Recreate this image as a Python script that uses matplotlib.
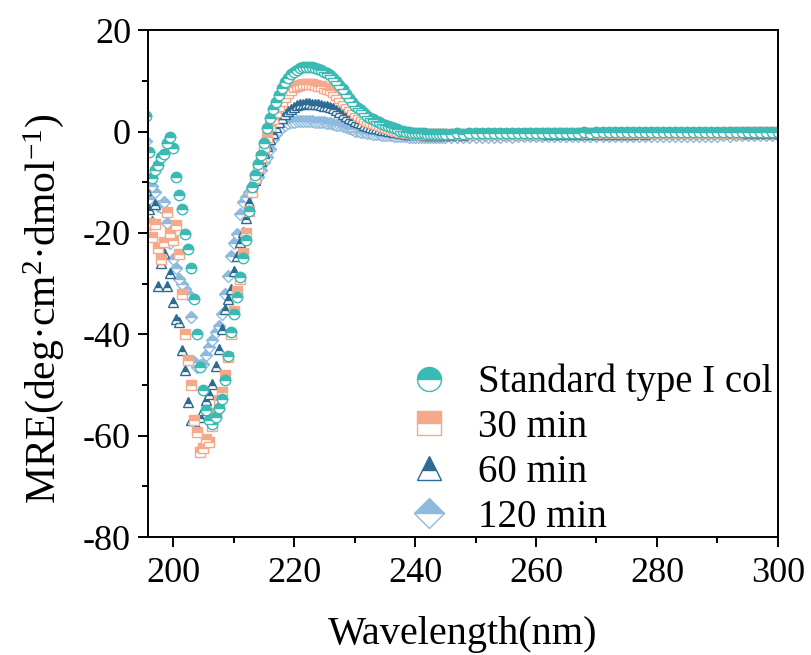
import numpy as np
import matplotlib
matplotlib.use("Agg")
import matplotlib.pyplot as plt

plt.rcParams["font.family"] = ["Liberation Serif", "DejaVu Serif"]
plt.rcParams["mathtext.fontset"] = "custom"
plt.rcParams["mathtext.rm"] = "Liberation Serif"
plt.rcParams["mathtext.it"] = "Liberation Serif:italic"
plt.rcParams["axes.unicode_minus"] = False

# wavelengths: 0.5 nm steps through the bands, 1 nm steps in the flat tail
wl_band = np.arange(195.5, 245.01, 0.5)
wl_tail = np.arange(246, 301, 1)

labels = ["Standard type I col", "30 min", "60 min", "120 min"]
colors = ["#3BBAB4", "#F5A88A", "#2E6B93", "#8EBBDD"]
markers = ["o", "s", "^", "D"]

std_band = [
    3.0, -4.1, -9.1, -7.5, -6.6, -5.1, -4.4, -2.3, -1.0,
    -3.2, -8.9, -12.5, -15.3, -20.2, -23.1, -27.0, -33.0, -40.0, -46.5,
    -51.0, -55.0, -57.0, -57.6, -56.3, -54.6, -52.7, -49.1, -44.2, -39.6,
    -36.0, -32.7, -28.7, -25.0, -21.4, -15.6, -11.0, -8.5, -6.5, -4.6,
    -2.2, 0.6, 2.6, 4.4, 5.9, 7.3, 8.6, 9.7, 10.6, 11.3,
    11.8, 12.2, 12.5, 12.7, 12.8, 12.7, 12.7, 12.5, 12.3, 12.1,
    11.8, 11.5, 11.1, 10.6, 10.0, 9.1, 8.3, 7.4, 6.6, 5.9,
    5.1, 4.6, 4.2, 3.6, 3.1, 2.7, 2.4, 2.1, 1.8, 1.5,
    1.3, 1.1, 0.9, 0.6, 0.4, 0.2, 0.1, 0.0, -0.1, -0.2,
    -0.3, -0.3, -0.35, -0.35, -0.4, -0.4, -0.4, -0.4, -0.45, -0.4, -0.4,
]
std_tail = [
    -0.4, -0.38, -0.4, -0.35, -0.36, -0.33, -0.35, -0.3, -0.32, -0.3,
    -0.28, -0.3, -0.27, -0.25, -0.27, -0.24, -0.25, -0.22, -0.24, -0.2,
    -0.22, -0.2, -0.18, -0.2, -0.17, -0.18, -0.15, -0.17, -0.14, -0.15,
    -0.13, -0.14, -0.12, -0.13, -0.1, -0.12, -0.1, -0.11, -0.09, -0.1,
    -0.08, -0.1, -0.07, -0.08, -0.06, -0.08, -0.05, -0.06, -0.05, -0.04,
    -0.05, -0.03, -0.04, -0.02, -0.03,
]

m30_band = [
    -18.5, -18.0, -20.8, -18.2, -23.0, -25.1, -21.8, -15.9, -20.0,
    -21.4, -18.5, -24.1, -32.0, -40.0, -45.0, -50.0, -57.0, -59.3, -63.3,
    -62.5, -60.6, -61.3, -58.0, -55.5, -53.0, -51.4, -48.1, -44.5, -39.9,
    -35.5, -31.4, -29.1, -24.0, -20.0, -15.6, -12.0, -9.2, -7.0, -5.0,
    -3.0, -1.0, 1.0, 2.5, 3.8, 5.0, 6.0, 6.9, 7.6, 8.2,
    8.7, 9.0, 9.2, 9.3, 9.4, 9.35, 9.3, 9.2, 9.0, 8.9,
    8.6, 8.4, 8.1, 7.7, 7.2, 6.7, 6.1, 5.4, 4.8, 4.2,
    3.6, 3.3, 2.9, 2.5, 2.1, 1.9, 1.6, 1.4, 1.2, 1.0,
    0.8, 0.6, 0.5, 0.3, 0.1, 0.0, -0.1, -0.2, -0.3, -0.35,
    -0.4, -0.4, -0.45, -0.45, -0.5, -0.5, -0.5, -0.5, -0.5, -0.5, -0.5,
]
m30_tail = [
    -0.5, -0.48, -0.5, -0.46, -0.47, -0.45, -0.46, -0.43, -0.44, -0.42,
    -0.4, -0.42, -0.39, -0.38, -0.4, -0.36, -0.37, -0.35, -0.36, -0.33,
    -0.34, -0.32, -0.33, -0.3, -0.31, -0.29, -0.3, -0.28, -0.29, -0.27,
    -0.28, -0.26, -0.27, -0.25, -0.26, -0.24, -0.25, -0.23, -0.24, -0.22,
    -0.23, -0.21, -0.22, -0.2, -0.21, -0.2, -0.19, -0.2, -0.18, -0.19,
    -0.17, -0.18, -0.17, -0.16, -0.17,
]

m60_band = [
    -11.6, -15.2, -17.6, -14.3, -30.4, -26.0, -24.0, -30.4, -28.0,
    -33.7, -36.9, -37.5, -43.0, -47.1, -53.4, -57.0, -57.0, -58.3, -56.3,
    -55.0, -53.0, -51.7, -49.8, -46.2, -42.9, -39.0, -35.0, -33.0, -31.0,
    -27.5, -24.5, -21.8, -19.9, -17.0, -14.0, -11.5, -9.5, -7.5, -5.8,
    -4.2, -2.8, -1.5, -0.3, 0.8, 1.8, 2.7, 3.4, 4.0, 4.5,
    4.9, 5.2, 5.4, 5.5, 5.6, 5.6, 5.5, 5.5, 5.4, 5.3,
    5.1, 5.0, 4.8, 4.6, 4.3, 3.9, 3.5, 3.1, 2.7, 2.4,
    2.0, 1.8, 1.6, 1.3, 1.1, 0.9, 0.75, 0.6, 0.5, 0.35,
    0.25, 0.15, 0.05, -0.05, -0.15, -0.25, -0.3, -0.4, -0.45, -0.5,
    -0.5, -0.55, -0.55, -0.6, -0.6, -0.6, -0.6, -0.6, -0.6, -0.6, -0.6,
]
m60_tail = [
    -0.6, -0.58, -0.6, -0.57, -0.58, -0.55, -0.56, -0.54, -0.55, -0.52,
    -0.53, -0.5, -0.52, -0.49, -0.5, -0.48, -0.49, -0.46, -0.47, -0.45,
    -0.46, -0.44, -0.45, -0.42, -0.43, -0.41, -0.42, -0.4, -0.41, -0.39,
    -0.4, -0.38, -0.39, -0.37, -0.38, -0.36, -0.37, -0.35, -0.36, -0.34,
    -0.35, -0.33, -0.34, -0.32, -0.33, -0.31, -0.32, -0.3, -0.31, -0.3,
    -0.29, -0.3, -0.28, -0.29, -0.28,
]

m120_band = [
    -1.8, -13.3, -10.7, -12.0, -14.6, -14.9, -13.9, -18.0, -22.0,
    -25.1, -27.0, -29.1, -30.0, -31.0, -32.0, -36.6, -45.5, -46.5, -46.0,
    -45.8, -44.0, -42.5, -41.2, -39.5, -38.3, -36.0, -32.0, -28.5, -24.5,
    -22.0, -20.2, -16.2, -14.0, -13.0, -12.0, -11.0, -10.0, -9.0, -7.5,
    -6.0, -5.0, -3.5, -1.5, -0.5, 0.3, 0.9, 1.3, 1.6, 1.8,
    1.9, 2.0, 2.0, 2.0, 2.0, 2.0, 2.0, 1.9, 1.9, 1.8,
    1.8, 1.7, 1.6, 1.5, 1.3, 1.2, 1.0, 0.8, 0.6, 0.4,
    0.2, 0.1, 0.0, -0.1, -0.2, -0.3, -0.4, -0.45, -0.5, -0.6,
    -0.6, -0.7, -0.75, -0.8, -0.85, -0.9, -0.9, -0.95, -1.0, -1.0,
    -1.0, -1.05, -1.05, -1.1, -1.1, -1.1, -1.1, -1.1, -1.1, -1.05, -1.05,
]
m120_tail = [
    -1.05, -1.03, -1.05, -1.02, -1.03, -1.0, -1.02, -0.99, -1.0, -0.98,
    -0.99, -0.96, -0.98, -0.95, -0.96, -0.94, -0.95, -0.93, -0.94, -0.92,
    -0.93, -0.9, -0.92, -0.89, -0.9, -0.88, -0.89, -0.87, -0.88, -0.86,
    -0.87, -0.85, -0.86, -0.84, -0.85, -0.83, -0.84, -0.82, -0.83, -0.81,
    -0.82, -0.8, -0.81, -0.79, -0.8, -0.78, -0.79, -0.77, -0.78, -0.76,
    -0.77, -0.75, -0.76, -0.74, -0.75,
]

wl = np.concatenate([wl_band, wl_tail])
series = [
    std_band + std_tail,
    m30_band + m30_tail,
    m60_band + m60_tail,
    m120_band + m120_tail,
]

fig = plt.figure(figsize=(8.12, 6.55), dpi=100)
ax = fig.add_axes([0.182, 0.180, 0.776, 0.774])

handles = [None] * 4
# draw the last series first so the standard sits on top
for i in [3, 2, 1, 0]:
    (h,) = ax.plot(wl, series[i], linestyle="none", marker=markers[i],
                   markersize=7.5 if markers[i] != "D" else 6.5,
                   fillstyle="top", markerfacecolor=colors[i],
                   markerfacecoloralt="white", markeredgecolor=colors[i],
                   markeredgewidth=1.0, label=labels[i])
    handles[i] = h

ax.set_xlim(195.8, 300)
ax.set_ylim(-80, 20)
ax.set_xticks(np.arange(200, 301, 20))
ax.set_xticks(np.arange(200, 301, 10), minor=True)
ax.set_yticks(np.arange(-80, 21, 20))
ax.set_yticks(np.arange(-80, 21, 10), minor=True)
ax.tick_params(which="both", direction="out", top=False, right=False,
               labelsize=26, width=1.4)
ax.tick_params(axis="x", pad=7)
ax.tick_params(axis="y", pad=5)
ax.tick_params(which="major", length=7)
ax.tick_params(which="minor", length=4)
for s in ax.spines.values():
    s.set_linewidth(1.4)

ax.set_xlabel("Wavelength(nm)", fontsize=29)
ax.set_ylabel("MRE(deg·cm$^{2}$·dmol$^{-1}$)", fontsize=30)
ax.xaxis.set_label_coords(0.5, -0.155)
ax.yaxis.set_label_coords(-0.13, 0.45)

ax.legend(handles=handles, loc="lower left", bbox_to_anchor=(0.36, -0.066),
          frameon=False, fontsize=28, markerscale=2.3, handlelength=1.0,
          handletextpad=0.75, labelspacing=0.2)

fig.savefig("out.png", dpi=100)
